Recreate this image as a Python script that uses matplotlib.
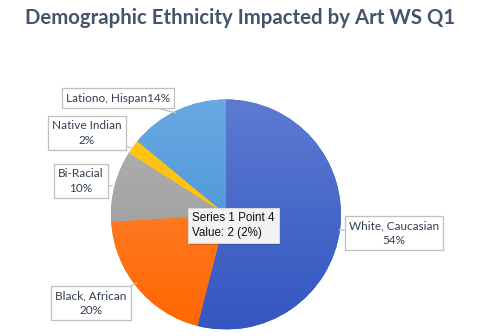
import numpy as np
import matplotlib
matplotlib.use('Agg')
import matplotlib.pyplot as plt
from matplotlib.colors import LinearSegmentedColormap
import matplotlib.patheffects as pe

# slice data, clockwise from 12 o'clock
labels = ['White, Caucasian', 'Black, African', 'Bi-Racial', 'Native Indian', 'Lationo, Hispan']
values = [54, 20, 10, 2, 14]
label_text = ['White, Caucasian\n54%', 'Black, African\n20%', 'Bi-Racial\n10%',
              'Native Indian\n2%', 'Lationo, Hispan14%']
# light (top) / dark (bottom) shade per slice
tops = ['#5d7bd2', '#ff8c42', '#b3b3b3', '#ffc81a', '#6aa9e2']
bottoms = ['#3356c0', '#ff6600', '#959595', '#ffbb00', '#3a8bd2']

W, H = 493, 336
fig = plt.figure(figsize=(W / 100, H / 100), dpi=100)
ax = fig.add_axes([0, 0, 1, 1])

cx, cy, r = 226, H - 214.5, 115
wedges, _ = ax.pie(values, startangle=90, counterclock=False, center=(cx, cy), radius=r,
                   colors=bottoms, frame=True, wedgeprops=dict(linewidth=0))

# vertical gradient fill for each slice
grad = np.linspace(0, 1, 256).reshape(-1, 1)
for w, c0, c1 in zip(wedges, tops, bottoms):
    cmap = LinearSegmentedColormap.from_list('g', [c1, c0])
    im = ax.imshow(grad, cmap=cmap, origin='lower', aspect='auto',
                   extent=(cx - r, cx + r, cy - r, cy + r), zorder=2)
    im.set_clip_path(w)

ax.set_xlim(0, W)
ax.set_ylim(0, H)
ax.set_aspect('equal')
ax.axis('off')

fig.text(0.487, 1 - 18 / H, 'Demographic Ethnicity Impacted by Art WS Q1', ha='center', va='center',
         fontsize=14.7, fontweight='bold', color='#44546a', family='Lato')

# data label callouts: box centre and the point on the slice edge
box_pos = [(394, 233), (91, 303), (81, 181), (87, 133), (118, 98)]
tips = [(339, 230), (137, 283), (112, 186), (131, 148), (176, 113)]
for txt, (bx, by), (tx, ty) in zip(label_text, box_pos, tips):
    ax.annotate(txt, xy=(tx, H - ty), xytext=(bx, H - by), ha='center', va='center',
                fontsize=8.5, color='#333f50', family='Lato', linespacing=1.4, zorder=5,
                bbox=dict(boxstyle='square,pad=0.35', fc='white', ec='#bfbfbf', lw=0.9),
                arrowprops=dict(arrowstyle='-', color='#bfbfbf', lw=0.9, shrinkA=0, shrinkB=0))

# hover tooltip
tip = ax.text(192, H - 225.5, 'Series 1 Point 4\nValue: %d (%d%%)' % (values[3], values[3]),
              ha='left', va='center', fontsize=8.4, color='#111111', family='Liberation Sans',
              linespacing=1.35, zorder=6,
              bbox=dict(boxstyle='square,pad=0.35', fc='#f2f2f2', ec='#d8d8d8', lw=0.6,
                        path_effects=[pe.withSimplePatchShadow(offset=(1, -1.5), shadow_rgbFace='#000000',
                                                               alpha=0.15), pe.Normal()]))

fig.savefig('out.png', dpi=100)
